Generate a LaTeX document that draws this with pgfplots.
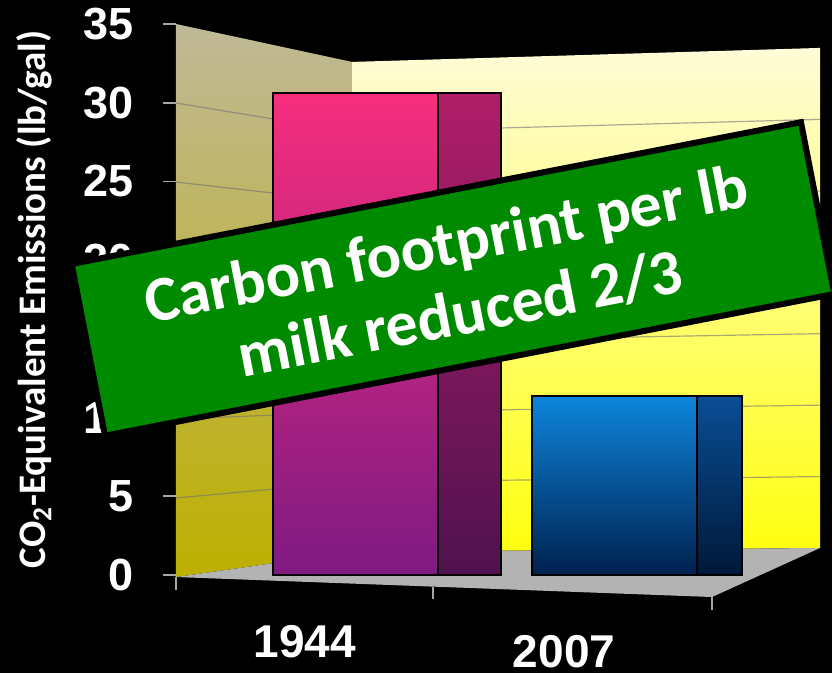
\documentclass[border=0pt]{standalone}
\usepackage{fontspec}
\setmainfont{Liberation Sans}
\newfontfamily\carlito{Carlito}
\usepackage{pgfplots}
\pgfplotsset{compat=1.18}
\definecolor{bannergreen}{HTML}{008A00}
\definecolor{pinktop}{HTML}{F72E7D}
\definecolor{pinkbot}{HTML}{7E1A82}
\definecolor{pinksidetop}{HTML}{B01E68}
\definecolor{pinksidebot}{HTML}{50124F}
\definecolor{bluetop}{HTML}{0D86DC}
\definecolor{bluebot}{HTML}{00204F}
\definecolor{bluesidetop}{HTML}{0A4E96}
\definecolor{bluesidebot}{HTML}{001838}
\definecolor{walltop}{HTML}{FFFCD8}
\definecolor{wallmid}{HTML}{FFFB90}
\definecolor{wallbot}{HTML}{FFFF10}
\definecolor{lwalltop}{HTML}{BFB897}
\definecolor{lwallmid}{HTML}{C2B860}
\definecolor{lwallbot}{HTML}{BDB000}
\definecolor{floorgray}{HTML}{B3B3B3}
\begin{document}
\begin{tikzpicture}
\fill[black] (0,0) rectangle (416pt,336.5pt);
\begin{axis}[
  at={(88pt,49pt)}, anchor=south west,
  width=322pt, height=275.5pt, scale only axis,
  xmin=-0.691, xmax=1.795, ymin=0, ymax=35,
  clip=false,
  axis line style={draw=none},
  ytick={0,5,...,35}, ytick pos=left,
  xtick={0,1}, xticklabels={1944,\raisebox{-5pt}{2007}},
  tick align=outside,
  major tick length=6.5pt,
  ytick style={draw=gray!70, line width=0.8pt},
  xtick style={draw=none},
  /pgf/number format/assume math mode=true,
  yticklabel style={font=\fontsize{22.5}{22.5}\selectfont\bfseries, text=white, xshift=-11pt},
  xticklabel style={font=\fontsize{23}{23}\selectfont\bfseries, text=white, anchor=base, xshift=-25pt, yshift=-35pt},
  ylabel={CO\textsubscript{2}-Equivalent Emissions (lb/gal)},
  every axis y label/.style={at={(rel axis cs:0,0.5)}, xshift=-71pt, rotate=90, anchor=center,
    font=\carlito\bfseries\fontsize{19.5}{19.5}\selectfont, text=white},
]
% back wall
\addplot[draw=none, top color=walltop, middle color=wallmid, bottom color=wallbot]
  coordinates {(-0.0116,32.59) (1.795,33.48) (1.795,1.715) (-0.0116,1.46)} -- cycle;
% left wall
\addplot[draw=none, top color=lwalltop, middle color=lwallmid, bottom color=lwallbot]
  coordinates {(-0.691,35) (-0.0116,32.59) (-0.0116,1.46) (-0.691,-0.13)} -- cycle;
% floor
\addplot[draw=none, fill=floorgray]
  coordinates {(-0.691,-0.13) (-0.0116,1.46) (1.795,1.715) (1.378,-1.40)} -- cycle;
% floor tick marks
\addplot[draw=gray!70, line width=0.8pt] coordinates {(-0.691,-0.13) (-0.691,-0.95)};
\addplot[draw=gray!70, line width=0.8pt] coordinates {(0.301,-0.74) (0.301,-1.52)};
\addplot[draw=gray!70, line width=0.8pt] coordinates {(1.378,-1.40) (1.378,-2.22)};
% grid lines on walls
\addplot[draw=black!55, opacity=0.6, line width=0.6pt] coordinates {(-0.691,4.89) (-0.0116,5.91) (1.795,6.25)};
\addplot[draw=black!55, opacity=0.6, line width=0.6pt] coordinates {(-0.691,9.91) (-0.0116,10.35) (1.795,10.79)};
\addplot[draw=black!55, opacity=0.6, line width=0.6pt] coordinates {(-0.691,14.93) (-0.0116,14.80) (1.795,15.33)};
\addplot[draw=black!55, opacity=0.6, line width=0.6pt] coordinates {(-0.691,19.95) (-0.0116,19.25) (1.795,19.86)};
\addplot[draw=black!55, opacity=0.6, line width=0.6pt] coordinates {(-0.691,24.96) (-0.0116,23.69) (1.795,24.40)};
\addplot[draw=black!55, opacity=0.6, line width=0.6pt] coordinates {(-0.691,29.98) (-0.0116,28.14) (1.795,28.94)};
% bar sides (depth)
\addplot[ybar, bar width=82.5pt, bar shift=31.5pt, draw=black, line width=1pt,
  top color=pinksidetop, bottom color=pinksidebot] coordinates {(0,30.6)};
\addplot[ybar, bar width=82.5pt, bar shift=22.5pt, draw=black, line width=1pt,
  top color=bluesidetop, bottom color=bluesidebot] coordinates {(1,11.4)};
% bar fronts
\addplot[ybar, bar width=82.5pt, bar shift=0pt, draw=black, line width=1pt,
  top color=pinktop, bottom color=pinkbot] coordinates {(0,30.6)};
\addplot[ybar, bar width=82.5pt, bar shift=0pt, draw=black, line width=1pt,
  top color=bluetop, bottom color=bluebot] coordinates {(1,11.4)};
\end{axis}
\node[rotate=11, fill=bannergreen, draw=black, line width=3pt, minimum width=371.5pt,
  minimum height=87.5pt, inner sep=0pt, text=white, align=center,
  font=\carlito\bfseries\fontsize{32}{35.5}\selectfont] at (226.5pt,197pt)
  {Carbon footprint per lb\\milk reduced 2/3};
\pgfresetboundingbox
\useasboundingbox (0,0) rectangle (416pt,336.5pt);
\end{tikzpicture}
\end{document}
